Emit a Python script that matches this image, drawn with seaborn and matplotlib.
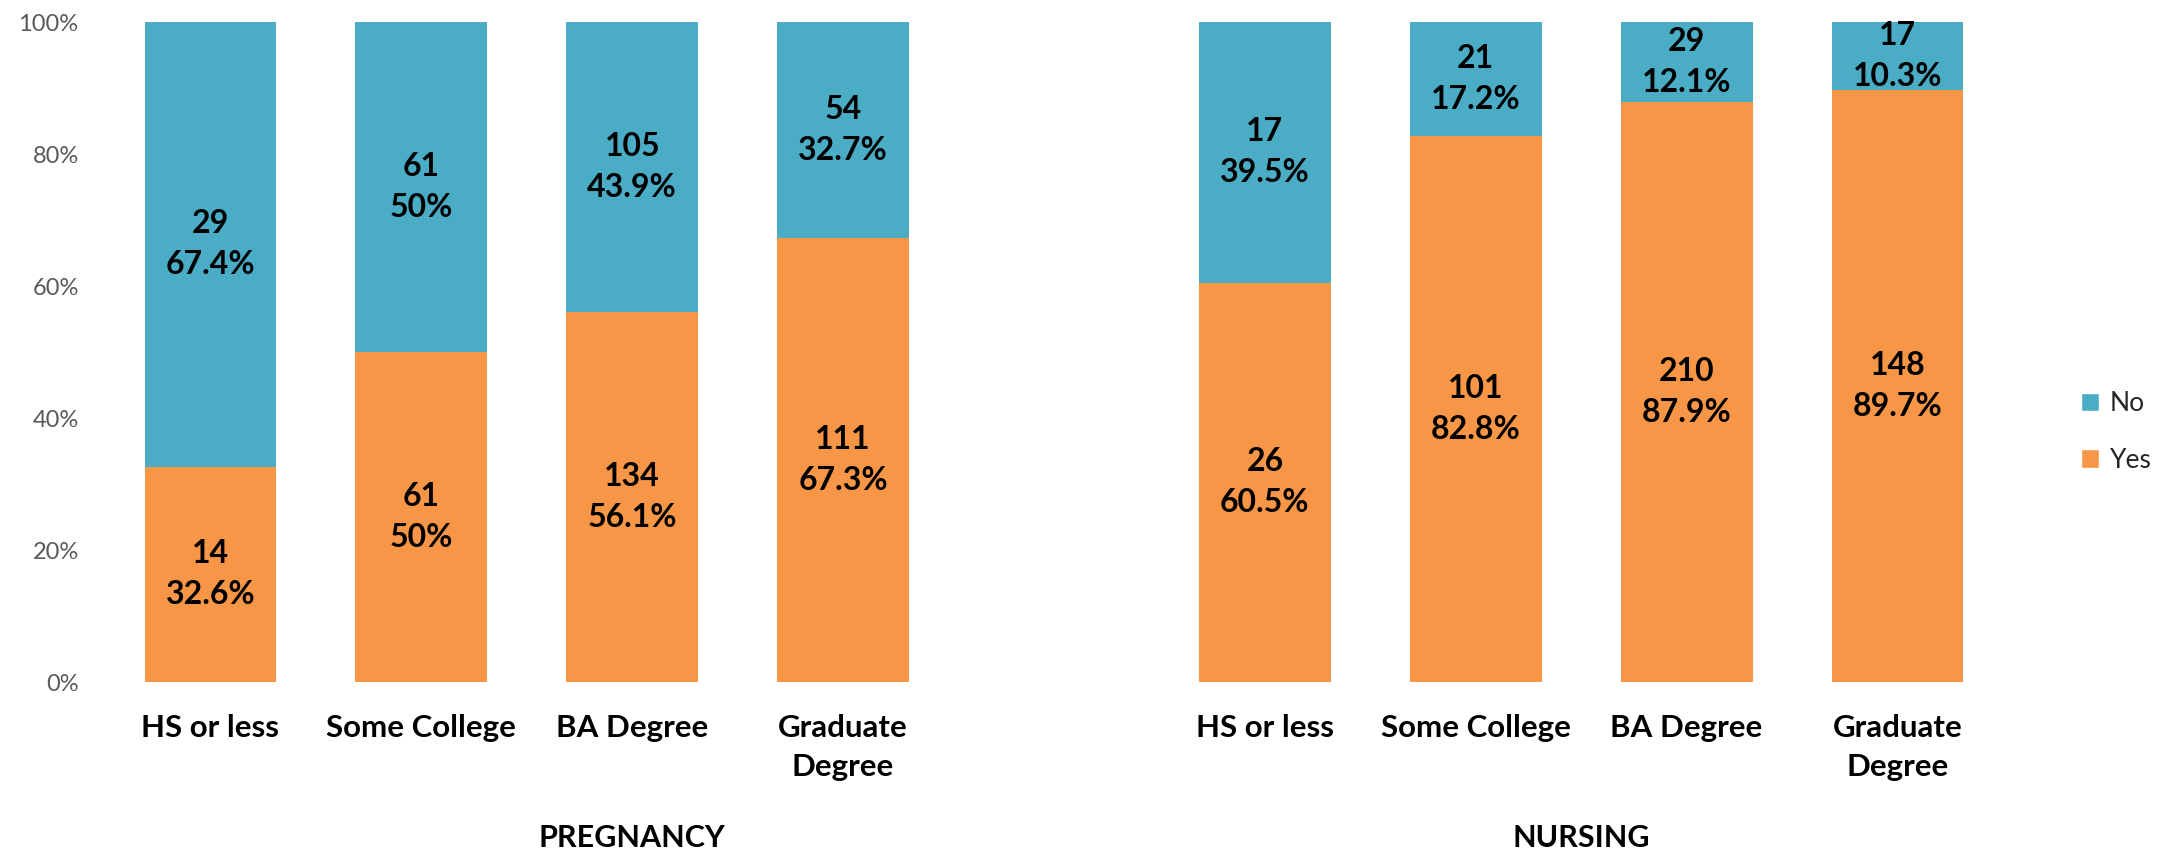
import matplotlib
matplotlib.use("Agg")
import matplotlib.pyplot as plt
from matplotlib.patches import Patch
import pandas as pd
import seaborn as sns

# Survey responses by education level
education = ["HS or less", "Some College", "BA Degree", "Graduate\nDegree"]
groups = ["PREGNANCY", "NURSING"]

pregnancy_yes = [14, 61, 134, 111]
pregnancy_no = [29, 61, 105, 54]
pregnancy_yes_pct = [32.6, 50.0, 56.1, 67.3]
pregnancy_no_pct = [67.4, 50.0, 43.9, 32.7]

nursing_yes = [26, 101, 210, 148]
nursing_no = [17, 21, 29, 17]
nursing_yes_pct = [60.5, 82.8, 87.9, 89.7]
nursing_no_pct = [39.5, 17.2, 12.1, 10.3]

y_ticks = [0, 20, 40, 60, 80, 100]

BLUE = "#4BACC6"
ORANGE = "#F79646"

sns.set_theme(style="white")
plt.rcParams["font.family"] = ["Lato", "DejaVu Sans"]

# one slot per bar, with an empty slot separating the two groups
slots = [f"P{i}" for i in range(4)] + ["gap"] + [f"N{i}" for i in range(4)]
rows = []
for i in range(4):
    rows.append(dict(slot=f"P{i}", yes=pregnancy_yes[i], no=pregnancy_no[i],
                     yes_pct=pregnancy_yes_pct[i], no_pct=pregnancy_no_pct[i]))
for i in range(4):
    rows.append(dict(slot=f"N{i}", yes=nursing_yes[i], no=nursing_no[i],
                     yes_pct=nursing_yes_pct[i], no_pct=nursing_no_pct[i]))
df = pd.DataFrame(rows)
df["total_pct"] = df["yes_pct"] + df["no_pct"]

fig = plt.figure(figsize=(21.79, 8.52), dpi=100)
ax = fig.add_axes([0.0482, 0.1995, 0.8710, 0.7746])

sns.barplot(data=df, x="slot", y="total_pct", order=slots, color=BLUE,
            saturation=1, width=0.625, errorbar=None, linewidth=0, ax=ax)
sns.barplot(data=df, x="slot", y="yes_pct", order=slots, color=ORANGE,
            saturation=1, width=0.625, errorbar=None, linewidth=0, ax=ax)


def fmt_pct(v):
    return f"{v:.0f}%" if abs(v - round(v)) < 1e-9 else f"{v:.1f}%"


label_kw = dict(ha="center", va="center", fontsize=23, fontweight="bold",
                color="black", linespacing=1.5)
for _, r in df.iterrows():
    x = slots.index(r["slot"])
    ax.text(x, r["yes_pct"] / 2, f"{r['yes']}\n{fmt_pct(r['yes_pct'])}", **label_kw)
    ax.text(x, r["yes_pct"] + r["no_pct"] / 2,
            f"{r['no']}\n{fmt_pct(r['no_pct'])}", **label_kw)

ax.set_xlim(-0.5, len(slots) - 0.5)
ax.set_ylim(0, 100)
ax.set_yticks(y_ticks)
ax.set_yticklabels([f"{t}%" for t in y_ticks], color="#595959", fontsize=17)
ax.set_xticks(range(len(slots)))
ax.set_xticklabels(education + [""] + education, fontsize=22.5, fontweight="bold",
                   color="black", va="top", linespacing=1.5)
ax.tick_params(axis="x", length=0, pad=23)
ax.tick_params(axis="y", length=0, pad=19)
ax.set_xlabel("")
ax.set_ylabel("")
for s in ax.spines.values():
    s.set_visible(False)
ax.grid(False)

# group captions under the category labels
xt = ax.get_xaxis_transform()
ax.text(2, -0.236, groups[0], transform=xt, ha="center", va="center",
        fontsize=22, fontweight="bold", color="black")
ax.text(6.5, -0.236, groups[1], transform=xt, ha="center", va="center",
        fontsize=22, fontweight="bold", color="black")

handles = [Patch(facecolor=BLUE, label="No"), Patch(facecolor=ORANGE, label="Yes")]
fig.legend(handles=handles, loc="center left", bbox_to_anchor=(0.955, 0.493),
           frameon=False, fontsize=19, handlelength=0.7, handleheight=0.7,
           handletextpad=0.4, labelspacing=1.2, borderpad=0, borderaxespad=0)

fig.savefig("out.png", dpi=100)
